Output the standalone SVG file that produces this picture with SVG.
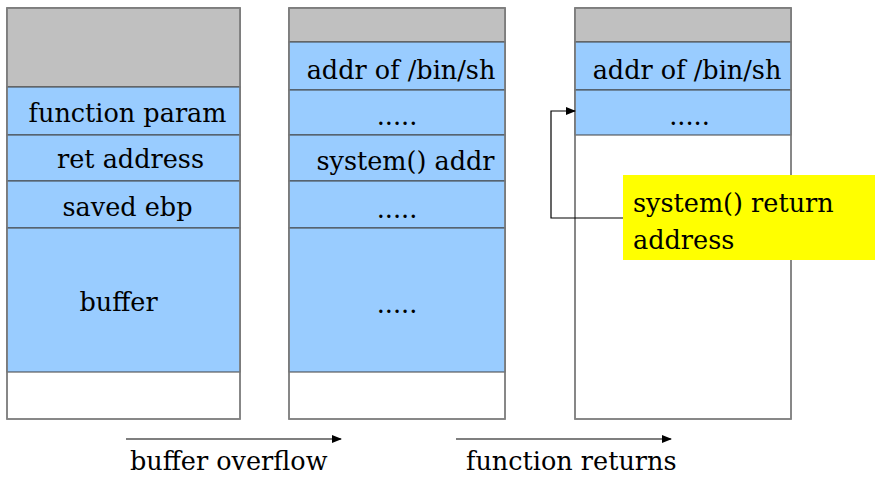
<svg xmlns="http://www.w3.org/2000/svg" width="875" height="477" viewBox="0 0 875 477">
<style>
.frame{fill:#ffffff;stroke:#808080;stroke-width:1.5}
.top{fill:#c0c0c0;stroke:#555;stroke-width:1}
.cell{fill:#99ccff;stroke:#404040;stroke-width:1}
.t{font-family:'DejaVu Serif','Liberation Serif',serif;font-size:25.5px;fill:#000}
.c{text-anchor:middle}
.conn{fill:none;stroke:#000;stroke-width:1.2}
</style>
<defs>
<marker id="ah" markerWidth="10" markerHeight="8" refX="9" refY="4" orient="auto" markerUnits="userSpaceOnUse">
<path d="M0,0 L10,4 L0,8 z" fill="#000"/>
</marker>
</defs>
<rect width="875" height="477" fill="#fff"/>
<g id="stack1">
<rect class="frame" x="7" y="8" width="233" height="411"/>
<rect class="top" x="7" y="8" width="233" height="79"/>
<rect class="cell" x="7" y="87" width="233" height="48"/>
<rect class="cell" x="7" y="135" width="233" height="46"/>
<rect class="cell" x="7" y="181" width="233" height="47"/>
<rect class="cell" x="7" y="228" width="233" height="144"/>
<rect x="7" y="8" width="233" height="411" fill="none" stroke="#808080" stroke-width="1.5"/>
<text class="t c" x="127.5" y="122">function param</text>
<text class="t c" x="130.5" y="168">ret address</text>
<text class="t c" x="127.5" y="216">saved ebp</text>
<text class="t c" x="118.5" y="311">buffer</text>
</g>
<g id="stack2">
<rect class="frame" x="289" y="8" width="216" height="411"/>
<rect class="top" x="289" y="8" width="216" height="34"/>
<rect class="cell" x="289" y="42" width="216" height="48"/>
<rect class="cell" x="289" y="90" width="216" height="45"/>
<rect class="cell" x="289" y="135" width="216" height="46"/>
<rect class="cell" x="289" y="181" width="216" height="47"/>
<rect class="cell" x="289" y="228" width="216" height="144"/>
<rect x="289" y="8" width="216" height="411" fill="none" stroke="#808080" stroke-width="1.5"/>
<text class="t c" x="401" y="79">addr of /bin/sh</text>
<text class="t c" x="397" y="125">.....</text>
<text class="t c" x="405.5" y="170">system() addr</text>
<text class="t c" x="397" y="218">.....</text>
<text class="t c" x="397" y="313">.....</text>
</g>
<g id="stack3">
<rect class="frame" x="575" y="8" width="216" height="411"/>
<rect class="top" x="575" y="8" width="216" height="34"/>
<rect class="cell" x="575" y="42" width="216" height="48"/>
<rect class="cell" x="575" y="90" width="216" height="45"/>
<rect x="575" y="8" width="216" height="411" fill="none" stroke="#808080" stroke-width="1.5"/>
<text class="t c" x="687" y="79">addr of /bin/sh</text>
<text class="t c" x="689.5" y="125">.....</text>
</g>
<g id="note">
<rect x="623" y="175" width="252" height="85" fill="#ffff00"/>
<text class="t" x="633" y="212">system() return</text>
<text class="t" x="633" y="249">address</text>
</g>
<g id="connectors">
<polyline class="conn" points="623,218 551,218 551,111 575,111" marker-end="url(#ah)"/>
<line class="conn" x1="126" y1="439" x2="341" y2="439" marker-end="url(#ah)"/>
<line class="conn" x1="456" y1="439" x2="671" y2="439" marker-end="url(#ah)"/>
</g>
<g id="labels">
<text class="t" x="130" y="470">buffer overflow</text>
<text class="t" x="466" y="470">function returns</text>
</g>
</svg>
